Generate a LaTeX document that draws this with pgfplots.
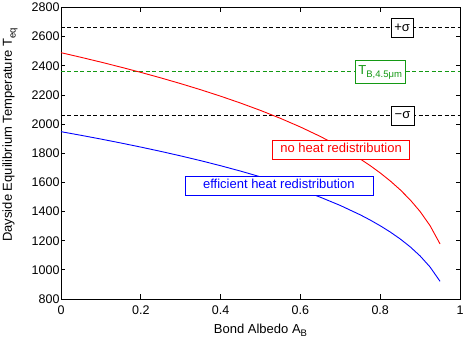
\documentclass[border=0pt]{standalone}
\usepackage{fontspec}
\setmainfont{Liberation Sans}
\usepackage{pgfplots}
\pgfplotsset{compat=1.18}
\definecolor{mgreen}{rgb}{0.08,0.6,0.08}
\newcommand{\sub}[1]{\raisebox{-0.55ex}{\fontsize{9.5}{11}\selectfont #1}}

% Dayside equilibrium temperature vs. Bond albedo
\pgfplotstableread{
A      Tno     Teff
0.000  2490.0  1948.0
0.050  2458.3  1923.2
0.100  2425.3  1897.4
0.150  2390.8  1870.4
0.200  2354.9  1842.3
0.250  2317.2  1812.8
0.300  2277.6  1781.8
0.350  2235.8  1749.1
0.400  2191.5  1714.5
0.450  2144.3  1677.5
0.500  2093.8  1638.1
0.550  2039.4  1595.5
0.600  1980.2  1549.2
0.650  1915.2  1498.3
0.700  1842.8  1441.7
0.750  1760.7  1377.5
0.775  1714.9  1341.7
0.800  1665.0  1302.6
0.825  1610.5  1259.9
0.850  1549.6  1212.3
0.875  1480.6  1158.3
0.900  1400.2  1095.4
0.925  1303.0  1019.4
0.950  1177.4   921.2
}\teqtable

\begin{document}
\begin{tikzpicture}
\useasboundingbox (-61pt,-40pt) rectangle (404pt,299pt);
\begin{axis}[
  scale only axis,
  width=399pt, height=291.5pt,
  xmin=0, xmax=1, ymin=800, ymax=2800,
  xtick={0,0.2,0.4,0.6,0.8,1},
  xticklabels={0,0.2,0.4,0.6,0.8,1},
  ytick={800,1000,1200,1400,1600,1800,2000,2200,2400,2600,2800},
  yticklabels={800,1000,1200,1400,1600,1800,2000,2200,2400,2600,2800},
  tick align=inside,
  major tick length=4.5pt,
  axis line style={line width=0.8pt},
  every tick/.style={black, line width=0.8pt},
  tick label style={font=\fontsize{12.5}{14}\selectfont},
  xticklabel style={yshift=-3pt},
  yticklabel style={xshift=2pt},
  every axis x label/.style={at={(axis description cs:0.5,-0.117)}, anchor=base},
  every axis y label/.style={at={(axis description cs:-0.128,0.563)}, anchor=center, rotate=90},
  label style={font=\fontsize{13}{15}\selectfont},
  xlabel={Bond Albedo A\sub{B}},
  ylabel={Dayside Equilibrium Temperature T\sub{eq}},
  clip=false,
]
% observed brightness temperature and its 1-sigma range
\addplot[black, line width=0.9pt, dash pattern=on 4pt off 2.5pt] coordinates {(0,2660) (1,2660)};
\addplot[mgreen, line width=1.1pt, dash pattern=on 4pt off 2.5pt] coordinates {(0,2358) (1,2358)};
\addplot[black, line width=0.9pt, dash pattern=on 4pt off 2.5pt] coordinates {(0,2060) (1,2060)};
% model curves
\addplot[red, line width=0.9pt] table[x=A, y=Tno] {\teqtable};
\addplot[blue, line width=0.9pt] table[x=A, y=Teff] {\teqtable};

\begin{scope}[every node/.style={fill=white, line width=0.6pt, font=\fontsize{13}{15}\selectfont, text height=9.5pt, text depth=3pt, inner ysep=3.3pt}]
\node[draw=black, inner xsep=3.5pt] at (axis cs:0.855,2660) {+σ};
\node[draw=black, inner xsep=3.5pt] at (axis cs:0.856,2060) {−σ};
\node[draw=mgreen, text=mgreen, inner xsep=3pt, text depth=5pt, inner ysep=4pt] at (axis cs:0.80,2358) {T\sub{B,4.5μm}};
\node[draw=red, text=red, minimum width=137pt] at (axis cs:0.702,1826) {no heat redistribution};
\node[draw=blue, text=blue, minimum width=188pt] at (axis cs:0.546,1579) {efficient heat redistribution};
\end{scope}
\end{axis}
\end{tikzpicture}
\end{document}
